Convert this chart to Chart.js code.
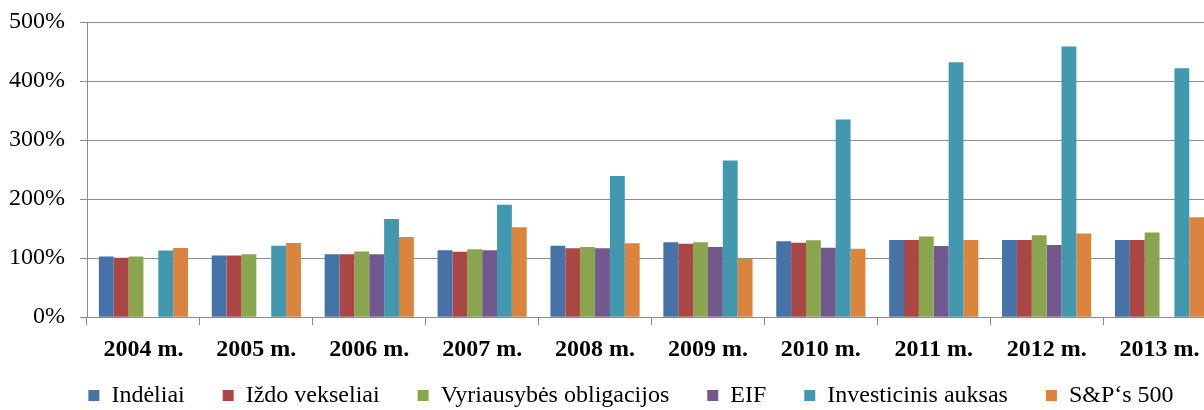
<!DOCTYPE html>
<html>
<head>
<meta charset="utf-8">
<script src="https://cdn.jsdelivr.net/npm/chart.js@4/dist/chart.umd.min.js"></script>
<style>
  html, body { margin: 0; padding: 0; background: #fff; overflow: hidden; }
  #wrap { width: 1230px; height: 410px; }
</style>
</head>
<body>
<div id="wrap"><canvas id="chart" width="1230" height="410"></canvas></div>
<script>
/* Data (percent) */
const years = ["2004 m.", "2005 m.", "2006 m.", "2007 m.", "2008 m.", "2009 m.", "2010 m.", "2011 m.", "2012 m.", "2013 m."];
const indeliai    = [102.7, 104.4, 106.8, 113.4, 121.2, 126.9, 128.5, 130.7, 130.7, 130.7];
const izdoVeks    = [100.5, 104.4, 106.8, 111.0, 116.8, 124.5, 126.3, 130.7, 130.7, 130.7];
const vyriausybes = [102.7, 106.8, 111.2, 115.0, 119.0, 126.9, 130.2, 136.5, 138.7, 143.3];
const eif         = [null, null, 106.8, 113.4, 116.8, 119.0, 117.8, 120.5, 122.2, null];
const auksas      = [113.0, 121.0, 166.4, 190.5, 239.0, 265.6, 335.0, 431.9, 458.4, 421.7];
const sp500       = [117.0, 125.5, 135.8, 152.3, 125.2, 99.2, 116.1, 130.7, 141.6, 169.3];
const yTicks = [0, 100, 200, 300, 400, 500];

const seriesNames = ["Indėliai", "Iždo vekseliai", "Vyriausybės obligacijos", "EIF", "Investicinis auksas", "S&P‘s 500"];
const seriesData = [indeliai, izdoVeks, vyriausybes, eif, auksas, sp500];
const seriesColors = ["#4572A7", "#AA4643", "#89A54E", "#71588F", "#4198AF", "#DB843D"];

const serif = "'Liberation Serif', 'Times New Roman', serif";
const LEGEND_PAD = 38;

/* keep legend short in the layout, then place it where the original has it */
const legendPlace = {
  id: "legendPlace",
  beforeLayout(chart) {
    const leg = chart.legend;
    if (leg && !leg._patched) {
      const origFit = leg.fit;
      leg.fit = function () { origFit.call(this); this.height = 36; };
      leg._patched = true;
    }
  },
  afterLayout(chart) {
    const leg = chart.legend;
    leg.left += 23;
    leg.right += 23;
    leg.top = 398 - LEGEND_PAD - 14.4;
    leg.bottom = chart.height;
    leg.height = leg.bottom - leg.top;
  }
};

new Chart(document.getElementById("chart"), {
  type: "bar",
  data: {
    labels: years,
    datasets: seriesNames.map((name, i) => ({
      label: name,
      data: seriesData[i],
      backgroundColor: seriesColors[i],
      borderWidth: 0,
      categoryPercentage: 0.79,
      barPercentage: 1.0
    }))
  },
  plugins: [legendPlace],
  options: {
    responsive: false,
    devicePixelRatio: 1,
    animation: false,
    layout: { padding: { left: 0, right: 14, top: 22, bottom: 0 } },
    plugins: {
      tooltip: { enabled: false },
      legend: {
        position: "bottom",
        labels: {
          boxWidth: 11,
          boxHeight: 11,
          padding: LEGEND_PAD,
          color: "#000",
          font: { family: serif, size: 24 }
        }
      }
    },
    scales: {
      x: {
        grid: {
          offset: true,
          drawOnChartArea: false,
          drawTicks: true,
          tickLength: 8,
          color: "#8c8c8c"
        },
        border: { color: "#8c8c8c", width: 1 },
        ticks: {
          color: "#000",
          padding: 10,
          maxRotation: 0,
          autoSkip: false,
          font: { family: serif, size: 24, weight: "bold" }
        }
      },
      y: {
        min: 0,
        max: 500,
        afterBuildTicks: (scale) => { scale.ticks = yTicks.map(v => ({ value: v })); },
        afterFit: (scale) => {
          scale.width = 87;
          scale.paddingTop = 0;
          scale.paddingBottom = 0;
        },
        grid: {
          color: "#8c8c8c",
          drawTicks: true,
          tickLength: 7
        },
        border: { color: "#8c8c8c", width: 1 },
        ticks: {
          color: "#000",
          padding: 15,
          font: { family: serif, size: 24 },
          callback: (v) => v + "%"
        }
      }
    }
  }
});
</script>
</body>
</html>
